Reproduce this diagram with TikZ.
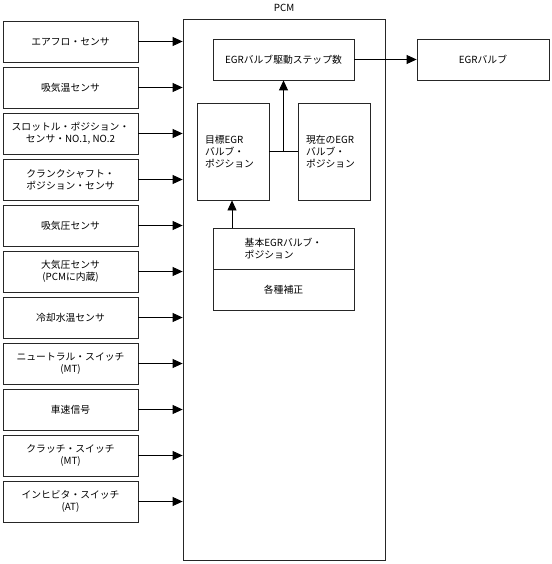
\documentclass[tikz,border=0pt]{standalone}
\usepackage{fontspec}
\setmainfont{Noto Sans CJK JP}
\usetikzlibrary{arrows.meta,calc}
\tikzset{
  box/.style={draw=black!85, line width=0.8pt, rectangle, inner sep=0pt, align=center, font=\fontsize{9.8}{12}\selectfont},
  sensor/.style={box, minimum width=135pt, minimum height=41pt},
  conn/.style={line width=0.8pt, -{Triangle[length=10pt,width=9pt]}},
  plain/.style={line width=0.8pt}
}
\begin{document}
\begin{tikzpicture}[x=1pt,y=-1pt]
\useasboundingbox (0,0) rectangle (551,564);
% PCM
\node[box, minimum width=202pt, minimum height=541pt, label={[font=\fontsize{9.8}{12}\selectfont, label distance=3pt]above:PCM}] (pcm) at (284,289.5) {};
% sensors
\node[sensor] (s1) at (70.5,41.5) {エアフロ・センサ};
\node[sensor] (s2) at (70.5,87.5) {吸気温センサ};
\node[sensor] (s3) at (70.5,133.5) {スロットル・ポジション・\\センサ・NO.1, NO.2};
\node[sensor] (s4) at (70.5,179.5) {クランクシャフト・\\ポジション・センサ};
\node[sensor] (s5) at (70.5,225.5) {吸気圧センサ};
\node[sensor] (s6) at (70.5,271.5) {大気圧センサ\\(PCMに内蔵)};
\node[sensor] (s7) at (70.5,317.5) {冷却水温センサ};
\node[sensor] (s8) at (70.5,363.5) {ニュートラル・スイッチ\\(MT)};
\node[sensor] (s9) at (70.5,409.5) {車速信号};
\node[sensor] (s10) at (70.5,455.5) {クラッチ・スイッチ\\(MT)};
\node[sensor] (s11) at (70.5,501.5) {インヒビタ・スイッチ\\(AT)};
\foreach \i in {1,...,11} {
  \draw[conn] (s\i.east) -- (s\i.east -| pcm.west);
}
% inner boxes
\node[box, minimum width=141pt, minimum height=41pt] (step) at (283.5,59.5) {EGRバルブ駆動ステップ数};
\node[box, minimum width=132pt, minimum height=41pt] (valve) at (483,59.5) {EGRバルブ};
\node[box, minimum width=72pt, minimum height=97pt, align=left, text width=56pt] (target) at (233,151.5) {目標EGR\\バルブ・\\ポジション};
\node[box, minimum width=72pt, minimum height=97pt, align=left, text width=56pt] (current) at (334,151.5) {現在のEGR\\バルブ・\\ポジション};
\node[box, minimum width=141pt, minimum height=41pt, align=left] (base) at (283.5,248.5) {基本EGRバルブ・\\ポジション};
\node[box, minimum width=141pt, minimum height=41pt] (corr) at (283.5,289.5) {各種補正};
\coordinate (mid) at ($(target.east)!0.5!(current.west)$);
\draw[plain] (target.east) -- (current.west);
\draw[conn] (mid) -- (step.south -| mid);
\draw[conn] (step.east) -- (valve.west);
\draw[conn] (base.north -| 232,0) -- (target.south -| 232,0);
\end{tikzpicture}
\end{document}
